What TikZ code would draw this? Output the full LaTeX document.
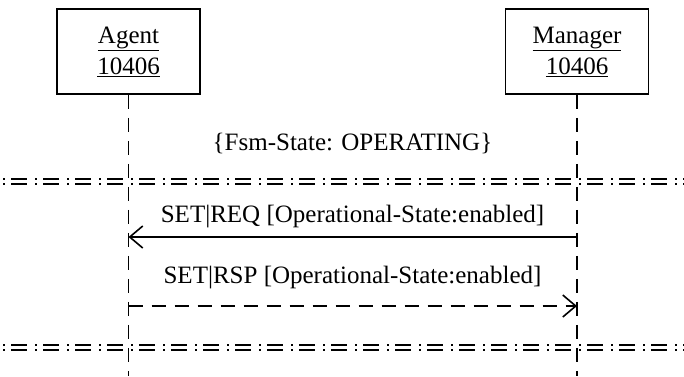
\documentclass[tikz,border=0pt]{standalone}
\usepackage{fontspec}
\setmainfont{Liberation Serif}
\usetikzlibrary{arrows.meta}
\tikzset{
	actor/.style={draw,line width=1.8pt,minimum width=143pt,minimum height=85pt,align=center,inner sep=0pt,font=\fontsize{25}{31}\selectfont},
	lifeline/.style={line width=1.8pt,dash pattern=on 14pt off 9pt},
	msg/.style={line width=1.8pt,-{Straight Barb[length=13pt,width=22pt,line width=1.6pt]}},
	reply/.style={msg,dash pattern=on 14pt off 9pt},
	lbl/.style={anchor=base,inner sep=0pt,font=\fontsize{25}{30}\selectfont},
	sep/.style={line width=1.5pt,dash pattern=on 16pt off 8pt on 2pt off 6pt,dash phase=21pt}
}
\begin{document}
\begin{tikzpicture}[x=1pt,y=-1pt]
						\useasboundingbox (0,0) rectangle (684,376);

						\node [actor] (agent) at (128.5,51.5) {\underline{Agent}\\\underline{10406}};
						\node [actor] (manager) at (577,51.5) {\underline{Manager}\\\underline{10406}};

						\coordinate (agentbot) at (128.5,376);
						\coordinate (managerbot) at (577,376);
						\draw [lifeline] (agent) -- (agentbot);
						\draw [lifeline] (manager) -- (managerbot);

						\node [lbl] (state) at (352.5,150) {\{Fsm-State: OPERATING\}};

						% separators
						\coordinate (s1l) at (0,179); \coordinate (s1r) at (684,179);
						\coordinate (s2l) at (0,184); \coordinate (s2r) at (684,184);
						\coordinate (s3l) at (0,345); \coordinate (s3r) at (684,345);
						\coordinate (s4l) at (0,350); \coordinate (s4r) at (684,350);
						\draw [sep] (s1l) -- (s1r);
						\draw [sep] (s2l) -- (s2r);
						\draw [sep] (s3l) -- (s3r);
						\draw [sep] (s4l) -- (s4r);

						% messages
						\coordinate (reqa) at (128.5,237);
						\coordinate (reqm) at (577,237);
						\node [lbl] (reqlbl) at (352.5,222) {SET|REQ [Operational-State:enabled]};
						\draw [msg] (reqm) -- (reqa);

						\coordinate (rspa) at (128.5,306);
						\coordinate (rspm) at (577,306);
						\node [lbl] (rsplbl) at (352.5,283) {SET|RSP [Operational-State:enabled]};
						\draw [reply] (rspa) -- (rspm);
					\end{tikzpicture}
\end{document}
